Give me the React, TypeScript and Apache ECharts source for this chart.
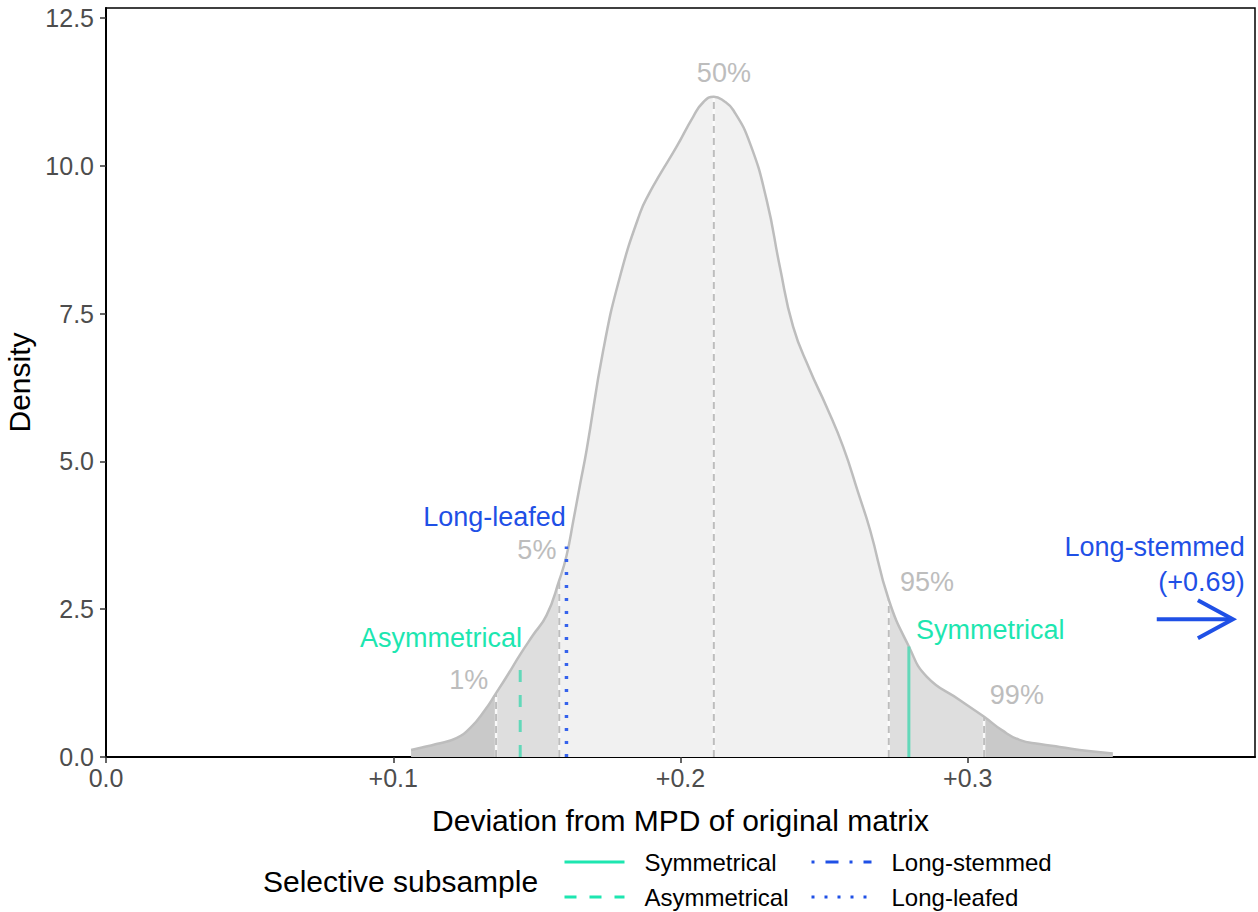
import React, { useEffect, useRef } from "react";
import * as echarts from "echarts";

// ---- data ----
const densX = [0.1062, 0.110, 0.115, 0.122, 0.127, 0.132, 0.1358, 0.140, 0.144, 0.1485, 0.1534, 0.1578, 0.1603, 0.1627, 0.1650, 0.1673, 0.1731, 0.1789, 0.1859, 0.1893, 0.1928, 0.1986, 0.2044, 0.2080, 0.2116, 0.2150, 0.2184, 0.2242, 0.2300, 0.2346, 0.2392, 0.2450, 0.2508, 0.2566, 0.2620, 0.2660, 0.2725, 0.2795, 0.2857, 0.2973, 0.3057, 0.3120, 0.3180, 0.3250, 0.3320, 0.3420, 0.3505];
const densY = [0.12, 0.16, 0.22, 0.32, 0.50, 0.80, 1.08, 1.40, 1.72, 2.05, 2.40, 2.99, 3.40, 4.00, 4.60, 5.19, 6.88, 8.12, 9.20, 9.55, 9.85, 10.32, 10.83, 11.08, 11.17, 11.10, 10.94, 10.38, 9.42, 8.29, 7.28, 6.55, 5.93, 5.25, 4.45, 3.84, 2.66, 1.87, 1.36, 0.96, 0.68, 0.45, 0.29, 0.22, 0.17, 0.10, 0.06];

const quantileX = [0.1358, 0.1578, 0.2116, 0.2725, 0.3057];
const quantileLabels = ["1%", "5%", "50%", "95%", "99%"];
const quantileLabelX = [0.1263, 0.150, 0.2151, 0.2858, 0.3171];
const quantileLabelY = [1.30, 3.50, 11.57, 2.96, 1.05];

const subsampleNames = ["Symmetrical", "Asymmetrical", "Long-stemmed", "Long-leafed"];
const subsampleX = [0.2795, 0.1442, 0.69, 0.1603];
const subsampleTop = [1.87, 1.62, 2.5, 3.56];

const annoText = ["Long-leafed", "Asymmetrical", "Symmetrical", "Long-stemmed", "(+0.69)"];
const annoX = [0.1601, 0.1448, 0.2820, 0.3964, 0.3964];
const annoY = [4.06, 2.01, 2.15, 3.55, 2.96];

const arrowFrom = [0.3658, 2.33];
const arrowTo = [0.3923, 2.33];

const xTicks = [0, 0.1, 0.2, 0.3];
const xTickLabels = ["0.0", "+0.1", "+0.2", "+0.3"];
const yTicks = [0, 2.5, 5, 7.5, 10, 12.5];

// ---- styling ----
const FONT = "'Liberation Sans', Arial, Helvetica, sans-serif";
const TEAL = "#1de6b0";
const TEAL_PLOT = "#62d8b9";
const BLUE = "#1f50e6";
const BLUE_DOT = "#3562ec";
const annoColor = [BLUE, TEAL, TEAL, BLUE, BLUE];
const annoAlign = ["right", "right", "left", "right", "right"];
const regionColors = ["#c9c9c9", "#dedede", "#f1f1f1", "#dedede", "#c9c9c9"];
const subColors = [TEAL_PLOT, TEAL_PLOT, BLUE, BLUE_DOT];
const subLegendColors = [TEAL, TEAL, BLUE, BLUE];
const subWidths = [3, 3, 3, 3.5];
const subDash: any[] = ["solid", [12, 13], [3, 11, 13, 11], [3, 10]];
const SMOOTH = 0.5;

export default function App() {
  const ref = useRef<HTMLDivElement>(null);
  useEffect(() => {
    if (!ref.current) return;
    const chart = echarts.init(ref.current, null, { renderer: "svg" });
    const pts = densX.map((x, i) => [x, densY[i]]);
    const qIdx = quantileX.map((q) => densX.indexOf(q));
    const bounds = [0, qIdx[0], qIdx[1], qIdx[3], qIdx[4], densX.length - 1];
    const regionSeries = regionColors.map((c, r) => ({
      type: "line",
      data: pts.slice(bounds[r], bounds[r + 1] + 1),
      smooth: SMOOTH,
      symbol: "none",
      lineStyle: { width: 0, opacity: 0 },
      areaStyle: { color: c, opacity: 1 },
      silent: true,
      z: 1,
    }));
    const quantileData = quantileX.map((q, i) => [q, densY[qIdx[i]]]);
    const subsampleSeries = subsampleNames.map((n, i) => ({
      type: "line",
      name: n,
      data: [[subsampleX[i], 0], [subsampleX[i], subsampleTop[i]]],
      symbol: "none",
      lineStyle: { color: subColors[i], width: subWidths[i], type: subDash[i] },
      itemStyle: { color: subLegendColors[i] },
      silent: true,
      clip: true,
      z: 6,
    }));
    const legendCommon = {
      orient: "vertical",
      padding: 0,
      itemWidth: 60,
      itemHeight: 14,
      itemGap: 7,
      top: 848,
      height: 80,
      textStyle: { fontSize: 24, lineHeight: 28, color: "#000", fontFamily: FONT, padding: [0, 0, 0, 15] },
      selectedMode: false,
    };
    const legendItem = (i: number) => ({
      name: subsampleNames[i],
      lineStyle: { color: subLegendColors[i], width: 3, type: subDash[i], opacity: 1 },
      itemStyle: { color: "rgba(0,0,0,0)", borderWidth: 0, opacity: 0 },
    });

    chart.setOption({
      animation: false,
      backgroundColor: "#fff",
      grid: {
        left: 106, right: 3, top: 8, bottom: 155,
        show: true, borderColor: "#000", borderWidth: 1.5, backgroundColor: "transparent",
        outerBoundsMode: "none",
      },
      legend: [
        { ...legendCommon, left: 563, data: [legendItem(0), legendItem(1)] },
        { ...legendCommon, left: 810, data: [legendItem(2), legendItem(3)] },
      ],
      graphic: [
        {
          type: "text", left: 263, top: 866,
          style: { text: "Selective subsample", font: `30px ${FONT}`, fill: "#000" },
        },
      ],
      xAxis: {
        type: "value", min: 0, max: 0.4,
        name: "Deviation from MPD of original matrix",
        nameLocation: "middle", nameGap: 48,
        nameTextStyle: { fontSize: 30, color: "#000", fontFamily: FONT },
        axisLine: { show: true, onZero: false, lineStyle: { color: "#000", width: 2 } },
        axisTick: { show: true, length: 6, customValues: xTicks, lineStyle: { color: "#333", width: 1.5 } },
        axisLabel: {
          customValues: xTicks, margin: 8, fontSize: 25, color: "#4d4d4d", fontFamily: FONT,
          formatter: (v: number) => xTickLabels[xTicks.findIndex((t) => Math.abs(t - v) < 1e-9)] ?? "",
        },
        splitLine: { show: false },
      },
      yAxis: {
        type: "value", min: 0, max: 12.67,
        name: "Density", nameLocation: "middle", nameGap: 66,
        nameTextStyle: { fontSize: 30, color: "#000", fontFamily: FONT },
        axisLine: { show: true, onZero: false, lineStyle: { color: "#000", width: 2 } },
        axisTick: { show: true, length: 6, customValues: yTicks, lineStyle: { color: "#333", width: 1.5 } },
        axisLabel: {
          customValues: yTicks, margin: 12, fontSize: 25, color: "#4d4d4d", fontFamily: FONT,
          formatter: (v: number) => v.toFixed(1),
        },
        splitLine: { show: false },
      },
      series: [
        ...regionSeries,
        {
          type: "custom",
          data: quantileData,
          silent: true,
          z: 3,
          renderItem: (params: any, api: any) => {
            const p0 = api.coord([api.value(0), 0]);
            const p1 = api.coord([api.value(0), api.value(1)]);
            return {
              type: "group",
              children: [
                { type: "line", shape: { x1: p0[0], y1: p0[1], x2: p1[0], y2: p1[1] }, style: { stroke: "#fafafa", lineWidth: 2.5 } },
                { type: "line", shape: { x1: p0[0], y1: p0[1], x2: p1[0], y2: p1[1] }, style: { stroke: "#bdbdbd", lineWidth: 2, lineDash: [7, 5] } },
              ],
            };
          },
        },
        {
          type: "line",
          data: pts,
          smooth: SMOOTH,
          symbol: "none",
          lineStyle: { color: "#bdbdbd", width: 2.5 },
          silent: true,
          z: 4,
        },
        ...subsampleSeries,
        {
          type: "custom",
          data: quantileLabels.map((t, i) => [quantileLabelX[i], quantileLabelY[i], i]),
          silent: true,
          z: 7,
          renderItem: (params: any, api: any) => {
            const i = api.value(2);
            const p = api.coord([api.value(0), api.value(1)]);
            return {
              type: "text", x: p[0], y: p[1],
              style: { text: quantileLabels[i], fill: "#bdbdbd", font: `27px ${FONT}`, align: "center", verticalAlign: "middle" },
            };
          },
        },
        {
          type: "custom",
          data: annoText.map((t, i) => [annoX[i], annoY[i], i]),
          silent: true,
          z: 7,
          renderItem: (params: any, api: any) => {
            const i = api.value(2);
            const p = api.coord([api.value(0), api.value(1)]);
            return {
              type: "text", x: p[0], y: p[1],
              style: { text: annoText[i], fill: annoColor[i], font: `27px ${FONT}`, align: annoAlign[i], verticalAlign: "middle" },
            };
          },
        },
        {
          type: "custom",
          data: [[arrowFrom[0], arrowFrom[1], arrowTo[0], arrowTo[1]]],
          silent: true,
          z: 7,
          renderItem: (params: any, api: any) => {
            const a = api.coord([api.value(0), api.value(1)]);
            const b = api.coord([api.value(2), api.value(3)]);
            return {
              type: "group",
              children: [
                { type: "line", shape: { x1: a[0], y1: a[1], x2: b[0] - 2, y2: b[1] }, style: { stroke: BLUE, lineWidth: 4 } },
                {
                  type: "polyline",
                  shape: { points: [[b[0] - 35, b[1] - 19], [b[0], b[1]], [b[0] - 35, b[1] + 19]] },
                  style: { stroke: BLUE, lineWidth: 4, fill: "none", lineJoin: "miter" },
                },
              ],
            };
          },
        },
      ],
    });
    return () => chart.dispose();
  }, []);
  return (
    <div
      ref={ref}
      style={{ position: "fixed", left: 0, top: 0, width: 1258, height: 912, background: "#fff" }}
    />
  );
}
